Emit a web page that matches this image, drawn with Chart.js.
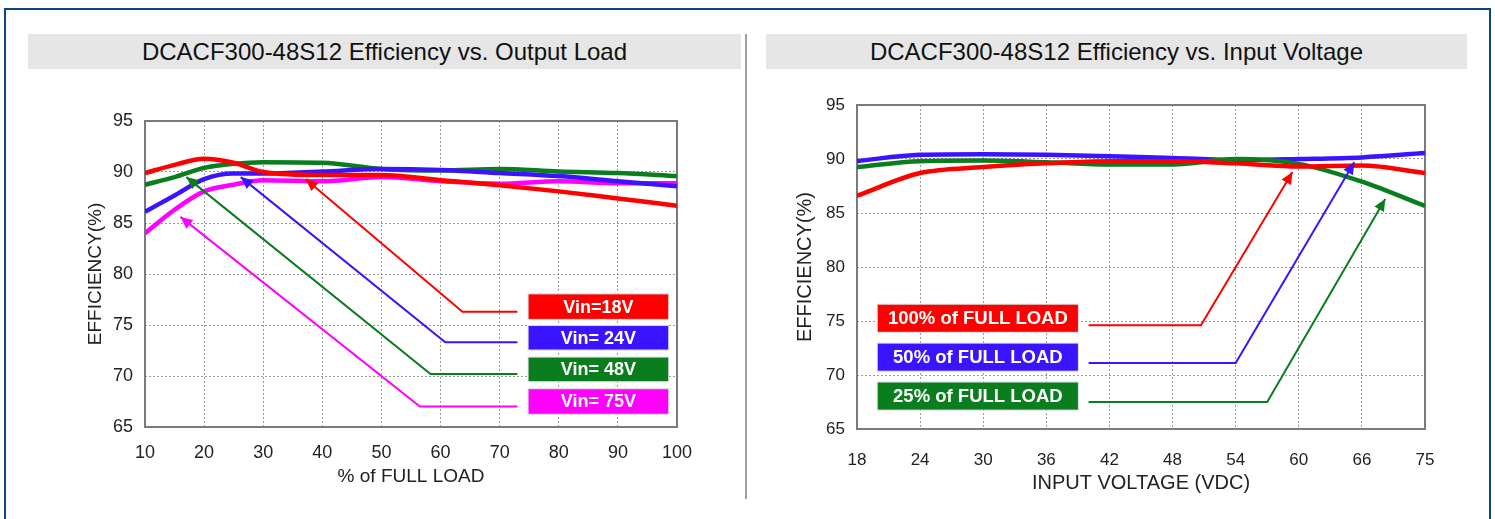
<!DOCTYPE html>
<html>
<head>
<meta charset="utf-8">
<script src="https://cdn.jsdelivr.net/npm/chart.js@4/dist/chart.umd.min.js"></script>
<style>
  body { margin: 0; background: #fff; font-family: "Liberation Sans", Arial, sans-serif; }
  .frame { position: absolute; left: 4px; top: 8px; width: 1483px; height: 600px; border: 2px solid #0b467f; }
  .bar { position: absolute; top: 34px; height: 35px; background: #e6e6e6; color: #111;
         font-size: 24px; line-height: 35px; text-align: center; }
  .divider { position: absolute; left: 745px; top: 34px; width: 2px; height: 465px; background: #a0a0a0; }
  canvas { position: absolute; }
</style>
</head>
<body>
<div class="frame"></div>
<div class="bar" style="left:28px;width:713px;">DCACF300-48S12 Efficiency vs. Output Load</div>
<div class="bar" style="left:766px;width:701px;">DCACF300-48S12 Efficiency vs. Input Voltage</div>
<div class="divider"></div>
<canvas id="loadChart" width="652" height="405" style="left:60px;top:95px;"></canvas>
<canvas id="voltageChart" width="690" height="425" style="left:770px;top:80px;"></canvas>
<script>
// efficiency vs output load (% of full load)
const loadPct = [10, 15, 20, 25, 30, 40, 50, 60, 70, 80, 90, 100];
const vin18 = [89.9, 90.7, 91.3, 90.9, 90.0, 89.7, 89.7, 89.2, 88.7, 88.1, 87.4, 86.7];
const vin24 = [86.1, 87.7, 89.3, 89.85, 89.85, 90.05, 90.3, 90.2, 89.9, 89.6, 89.1, 88.6];
const vin48 = [88.75, 89.5, 90.4, 90.8, 90.95, 90.9, 90.3, 90.15, 90.3, 90.05, 89.9, 89.6];
const vin75 = [84.0, 86.3, 88.1, 88.75, 89.2, 89.1, 89.5, 89.1, 88.85, 89.1, 88.9, 88.9];

// efficiency vs input voltage (VDC)
const voltageTicks = ['18', '24', '30', '36', '42', '48', '54', '60', '66', '75'];
const load100 = [86.6, 88.7, 89.25, 89.6, 89.8, 89.8, 89.6, 89.3, 89.4, 88.7];
const load50 = [89.8, 90.4, 90.45, 90.4, 90.25, 90.1, 89.9, 90.0, 90.15, 90.55];
const load25 = [89.25, 89.8, 89.85, 89.7, 89.5, 89.5, 90.0, 89.55, 87.9, 85.65];

const RED = '#ff0000', BLUE = '#3a14ff', GREEN = '#0a7d1e', MAGENTA = '#ff00ff';
const FONT = '"Liberation Sans", Arial, sans-serif';

// label arrows and boxes, in axis units
const loadArrows = [
  {color: RED, pts: [[73, 76.3], [63.7, 76.3], [37.2, 89.3]]},
  {color: BLUE, pts: [[73, 73.3], [60.8, 73.3], [26.2, 89.5]]},
  {color: GREEN, pts: [[73, 70.2], [58.3, 70.2], [17.0, 89.5]]},
  {color: MAGENTA, pts: [[73, 67.0], [56.5, 67.0], [16.0, 85.6]]}
];
const loadBoxes = [
  {text: 'Vin=18V', color: RED, x: [74.9, 98.5], y: [75.6, 78.0]},
  {text: 'Vin= 24V', color: BLUE, x: [74.9, 98.5], y: [72.6, 74.9]},
  {text: 'Vin= 48V', color: GREEN, x: [74.9, 98.5], y: [69.5, 71.8]},
  {text: 'Vin= 75V', color: MAGENTA, x: [74.9, 98.5], y: [66.3, 68.7]}
];
const voltageArrows = [
  {color: RED, pts: [[3.67, 74.6], [5.45, 74.6], [6.9, 88.8]]},
  {color: BLUE, pts: [[3.67, 71.1], [6.0, 71.1], [7.88, 89.7]]},
  {color: GREEN, pts: [[3.67, 67.5], [6.5, 67.5], [8.37, 86.3]]}
];
const voltageBoxes = [
  {text: '100% of FULL LOAD', color: RED, x: [0.33, 3.5], y: [74.0, 76.5]},
  {text: '50% of FULL LOAD', color: BLUE, x: [0.33, 3.5], y: [70.4, 72.9]},
  {text: '25% of FULL LOAD', color: GREEN, x: [0.33, 3.5], y: [66.8, 69.3]}
];

const curve = (label, xs, ys, color) => ({
  label, data: xs.map((x, i) => ({x, y: ys[i]})),
  borderColor: color, borderWidth: 4.5, pointRadius: 0,
  cubicInterpolationMode: 'monotone', order: 1
});

const arrow = (a) => ({
  data: a.pts.map(p => ({x: p[0], y: p[1]})),
  borderColor: a.color, backgroundColor: a.color, borderWidth: 2,
  pointRadius: 0, tension: 0, arrow: true, order: 0
});

const plotFrame = {
  id: 'plotFrame',
  beforeDatasetsDraw(chart) {
    const {ctx, chartArea: a} = chart;
    ctx.save();
    ctx.strokeStyle = '#7a7a7a';
    ctx.lineWidth = 2;
    ctx.strokeRect(a.left, a.top, a.right - a.left, a.bottom - a.top);
    ctx.restore();
  }
};

const marks = {
  id: 'marks',
  afterDatasetsDraw(chart, args, opts) {
    const ctx = chart.ctx;
    const xs = chart.scales.x, ys = chart.scales.y;
    ctx.save();
    chart.data.datasets.forEach((ds, i) => {
      if (!ds.arrow) return;
      const pts = chart.getDatasetMeta(i).data;
      const tip = pts[pts.length - 1], prev = pts[pts.length - 2];
      const ang = Math.atan2(tip.y - prev.y, tip.x - prev.x);
      ctx.fillStyle = ds.borderColor;
      ctx.beginPath();
      ctx.moveTo(tip.x, tip.y);
      ctx.lineTo(tip.x - 12 * Math.cos(ang) + 5.5 * Math.sin(ang), tip.y - 12 * Math.sin(ang) - 5.5 * Math.cos(ang));
      ctx.lineTo(tip.x - 12 * Math.cos(ang) - 5.5 * Math.sin(ang), tip.y - 12 * Math.sin(ang) + 5.5 * Math.cos(ang));
      ctx.closePath();
      ctx.fill();
    });
    (opts.boxes || []).forEach(b => {
      const x0 = xs.getPixelForValue(b.x[0]), x1 = xs.getPixelForValue(b.x[1]);
      const y0 = ys.getPixelForValue(b.y[1]), y1 = ys.getPixelForValue(b.y[0]);
      ctx.fillStyle = '#d8d8d8';
      ctx.fillRect(x0 - 1, y0 - 1, x1 - x0 + 2, y1 - y0 + 2);
      ctx.fillStyle = b.color;
      ctx.fillRect(x0, y0, x1 - x0, y1 - y0);
      ctx.fillStyle = '#fff';
      ctx.font = 'bold ' + opts.size + 'px ' + FONT;
      ctx.textAlign = 'center';
      ctx.textBaseline = 'middle';
      ctx.fillText(b.text, (x0 + x1) / 2, (y0 + y1) / 2 + 1);
    });
    ctx.restore();
  }
};

function axes(o) {
  const tickFont = {family: FONT, size: o.tickSize};
  const titleFont = {family: FONT, size: o.titleSize};
  const grid = {color: '#9a9a9a', lineWidth: 1, drawTicks: false};
  return {
    x: Object.assign({
      type: 'linear', grid, border: {display: false, dash: [2, 2]},
      ticks: Object.assign({font: tickFont, color: '#222', padding: o.tickPad, maxRotation: 0}, o.ticks),
      title: {display: true, text: o.title, font: titleFont, color: '#222', padding: {top: 0, bottom: o.titlePad}},
      afterFit: s => { s.height = o.xHeight; }
    }, o.range),
    y: {
      min: 65, max: 95, grid, border: {display: false, dash: [2, 2]},
      ticks: {stepSize: 5, font: tickFont, color: '#222', padding: 12},
      title: {display: true, text: 'EFFICIENCY(%)', font: titleFont, color: '#222', padding: {top: o.yTitlePad, bottom: 0}},
      afterFit: s => { s.width = o.yWidth; }
    }
  };
}

new Chart(document.getElementById('loadChart'), {
  type: 'line',
  data: {
    datasets: [
      curve('Vin=18V', loadPct, vin18, RED),
      curve('Vin= 24V', loadPct, vin24, BLUE),
      curve('Vin= 75V', loadPct, vin75, MAGENTA),
      curve('Vin= 48V', loadPct, vin48, GREEN)
    ].concat(loadArrows.map(arrow))
  },
  options: {
    responsive: false, animation: false, devicePixelRatio: 1,
    layout: {padding: {top: 26, right: 35, left: 0, bottom: 0}},
    plugins: {legend: {display: false}, tooltip: {enabled: false}, marks: {boxes: loadBoxes, size: 18}},
    scales: axes({
      range: {min: 10, max: 100}, ticks: {stepSize: 10}, title: '% of FULL LOAD',
      tickSize: 18, titleSize: 19, yWidth: 85, xHeight: 73, tickPad: 15, titlePad: 12, yTitlePad: 24
    })
  },
  plugins: [plotFrame, marks]
});

new Chart(document.getElementById('voltageChart'), {
  type: 'line',
  data: {
    datasets: [
      curve('100% of FULL LOAD', voltageTicks.map((v, i) => i), load100, RED),
      curve('25% of FULL LOAD', voltageTicks.map((v, i) => i), load25, GREEN),
      curve('50% of FULL LOAD', voltageTicks.map((v, i) => i), load50, BLUE)
    ].concat(voltageArrows.map(arrow))
  },
  options: {
    responsive: false, animation: false, devicePixelRatio: 1,
    layout: {padding: {top: 25, right: 35, left: 0, bottom: 0}},
    plugins: {legend: {display: false}, tooltip: {enabled: false}, marks: {boxes: voltageBoxes, size: 18.5}},
    scales: axes({
      range: {min: 0, max: voltageTicks.length - 1},
      ticks: {stepSize: 1, callback: v => voltageTicks[v]},
      title: 'INPUT VOLTAGE (VDC)',
      tickSize: 17, titleSize: 20, yWidth: 87, xHeight: 76, tickPad: 21, titlePad: 10, yTitlePad: 23
    })
  },
  plugins: [plotFrame, marks]
});
</script>
</body>
</html>
